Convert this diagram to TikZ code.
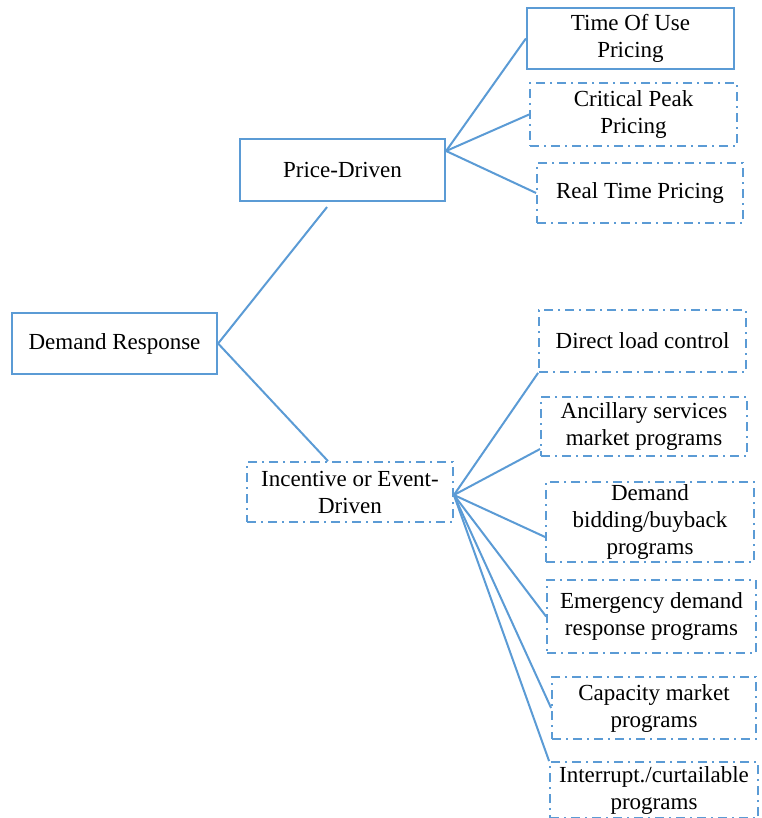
\documentclass[tikz,border=0pt]{standalone}
\usepackage{fontspec}
\setmainfont{Liberation Serif}
\definecolor{lineblue}{RGB}{91,155,213}

\begin{document}
\begin{tikzpicture}[x=1pt,y=-1pt,
    solidbox/.style={draw=lineblue, line width=2.2pt, align=center, inner sep=0pt, font=\fontsize{23}{27}\selectfont},
    dashbox/.style={solidbox, line width=1.8pt, dash pattern=on 9pt off 5pt on 2pt off 5pt},
    link/.style={draw=lineblue, line width=2pt}]

    \useasboundingbox (0,0) rectangle (761,818);

    % root
    \node[solidbox, minimum width=205pt, minimum height=61pt] (dr) at (114.5,343.5) {Demand Response};

    % price branch
    \node[solidbox, minimum width=205pt, minimum height=62pt] (pd) at (342.5,170) {Price-Driven};
    \node[solidbox, minimum width=207pt, minimum height=61pt] (tou) at (630.5,38.5) {Time Of Use\\Pricing};
    \node[dashbox, minimum width=207pt, minimum height=63pt] (cpp) at (633.5,114.5) {Critical Peak\\Pricing};
    \node[dashbox, minimum width=206pt, minimum height=60pt] (rtp) at (640,193) {Real Time Pricing};

    % incentive branch
    \node[dashbox, minimum width=206pt, minimum height=60pt] (ied) at (350,492) {Incentive or Event-\\Driven};
    \node[dashbox, minimum width=207pt, minimum height=62pt] (dlc) at (642.5,341) {Direct load control};
    \node[dashbox, minimum width=206pt, minimum height=59pt] (asm) at (644,426.5) {Ancillary services\\market programs};
    \node[dashbox, minimum width=208pt, minimum height=80pt] (dbb) at (650,522) {Demand\\bidding/buyback\\programs};
    \node[dashbox, minimum width=209pt, minimum height=73pt] (edr) at (651.5,616.5) {Emergency demand\\response programs};
    \node[dashbox, minimum width=204pt, minimum height=62pt] (cmp) at (654,708) {Capacity market\\programs};
    \node[dashbox, minimum width=208pt, minimum height=56pt] (icp) at (654,790) {Interrupt./curtailable\\programs};

    % fan points
    \coordinate (pfan) at ([yshift=19pt]pd.east);
    \coordinate (ifan) at ([yshift=-3pt]ied.east);

    % root -> branches
    \draw[link] (dr.east) -- ([xshift=-15.5pt,yshift=-5pt]pd.south);
    \draw[link] (dr.east) -- ([xshift=-22pt]ied.north);

    % price -> programs
    \draw[link] (pfan) -- (tou.west);
    \draw[link] (pfan) -- (cpp.west);
    \draw[link] (pfan) -- (rtp.west);

    % incentive -> programs
    \draw[link] (ifan) -- (dlc.south west);
    \draw[link] (ifan) -- ([yshift=-22.5pt]asm.west);
    \draw[link] (ifan) -- ([yshift=-15pt]dbb.west);
    \draw[link] (ifan) -- (edr.west);
    \draw[link] (ifan) -- (cmp.west);
    \draw[link] (ifan) -- (icp.north west);

\end{tikzpicture}
\end{document}
